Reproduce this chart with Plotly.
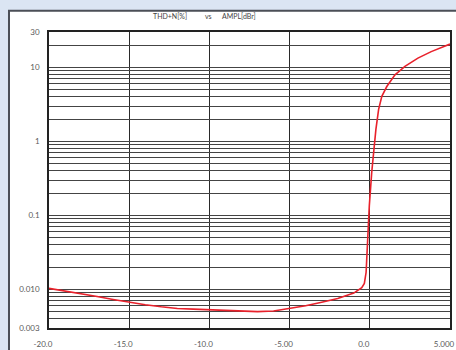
import numpy as np
import plotly.graph_objects as go

# THD+N (%) versus output amplitude (dBr)
ampl_dbr = [-20, -19, -18, -17, -16, -15, -14, -13, -12, -11, -10, -9, -8, -7, -6,
            -5, -4, -3, -2, -1, -0.5, -0.34, -0.23, -0.13, -0.03, 0.12, 0.27, 0.38,
            0.55, 0.75, 1.06, 1.57, 2.19, 3.0, 3.83, 5.0]
thd_pct = [0.0103, 0.0095, 0.0088, 0.0080, 0.0073, 0.0067, 0.0062, 0.0058, 0.0055,
           0.0054, 0.0053, 0.0052, 0.0050, 0.0050, 0.0051, 0.0055, 0.0060, 0.0067,
           0.0075, 0.0089, 0.0105, 0.0120, 0.017, 0.048, 0.135, 0.38, 0.95, 1.45,
           2.7, 4.06, 5.5, 7.9, 10.3, 13.3, 16.3, 20.6]

x_ticks = [-20, -15, -10, -5, 0, 5]
x_labels = ["-20.0", "-15.0", "-10.0", "-5.00", "0.0", "5.000"]

# y grid at every 1..9 step of each decade, labels only on a few
y_grid = [0.003, 0.004, 0.005, 0.006, 0.007, 0.008, 0.009,
          0.01, 0.02, 0.03, 0.04, 0.05, 0.06, 0.07, 0.08, 0.09,
          0.1, 0.2, 0.3, 0.4, 0.5, 0.6, 0.7, 0.8, 0.9,
          1, 2, 3, 4, 5, 6, 7, 8, 9, 10, 20, 30]
y_label_map = {0.003: "0.003", 0.01: "0.010", 0.1: "0.1", 1: "1", 10: "10", 30: "30"}
y_labels = [y_label_map.get(v, "") for v in y_grid]

W, H = 456, 350
ML, MR, MT, MB = 49, 1, 32, 20
pw, ph = W - ML - MR, H - MT - MB

def px_x(p):
    return (p - ML) / pw

def px_y(p):
    return (H - MB - p) / ph

font_fam = "Lato, 'DejaVu Sans', sans-serif"
txt_col = "#5a5a5a"

fig = go.Figure()
fig.add_trace(go.Scatter(x=ampl_dbr, y=thd_pct, mode="lines",
                         line=dict(color="#e8212b", width=1.6), hoverinfo="skip"))

fig.update_layout(
    width=W, height=H,
    margin=dict(l=ML, r=MR, t=MT, b=MB),
    paper_bgcolor="#dbe5f3",
    plot_bgcolor="white",
    showlegend=False,
    font=dict(family=font_fam, size=8, color=txt_col),
)

fig.update_xaxes(range=[-20, 5], tickvals=x_ticks, ticktext=x_labels,
                 showgrid=True, gridcolor="#2a2a2a", gridwidth=1.3,
                 zeroline=False, showline=True, linecolor="#222", linewidth=1.5,
                 mirror=True, ticks="", ticklabelstandoff=8, ticklabelshift=-6,
                 ticklabeloverflow="allow",
                 tickfont=dict(size=8, color=txt_col))
fig.update_yaxes(type="log", range=[np.log10(0.003), np.log10(30)],
                 tickvals=y_grid, ticktext=y_labels,
                 showgrid=True, gridcolor="#444", gridwidth=1,
                 zeroline=False, showline=True, linecolor="#222", linewidth=1.5,
                 mirror=True, ticks="", ticklabelstandoff=6,
                 tickfont=dict(size=8, color=txt_col))

# white chart panel with dark frame behind the plot
fig.add_shape(type="rect", xref="paper", yref="paper", layer="below",
              x0=px_x(8.5), x1=px_x(470), y0=px_y(370), y1=px_y(10.5),
              fillcolor="white", line=dict(color="#4b4f57", width=2))

# title pieces
for txt, cx in [("THD+N[%]", 172), ("vs", 210), ("AMPL[dBr]", 241)]:
    fig.add_annotation(text=txt, x=px_x(cx), y=px_y(16), xref="paper", yref="paper",
                       showarrow=False, xanchor="center", yanchor="middle",
                       font=dict(size=7, color="#444", family=font_fam))

fig.write_html("out.html")
